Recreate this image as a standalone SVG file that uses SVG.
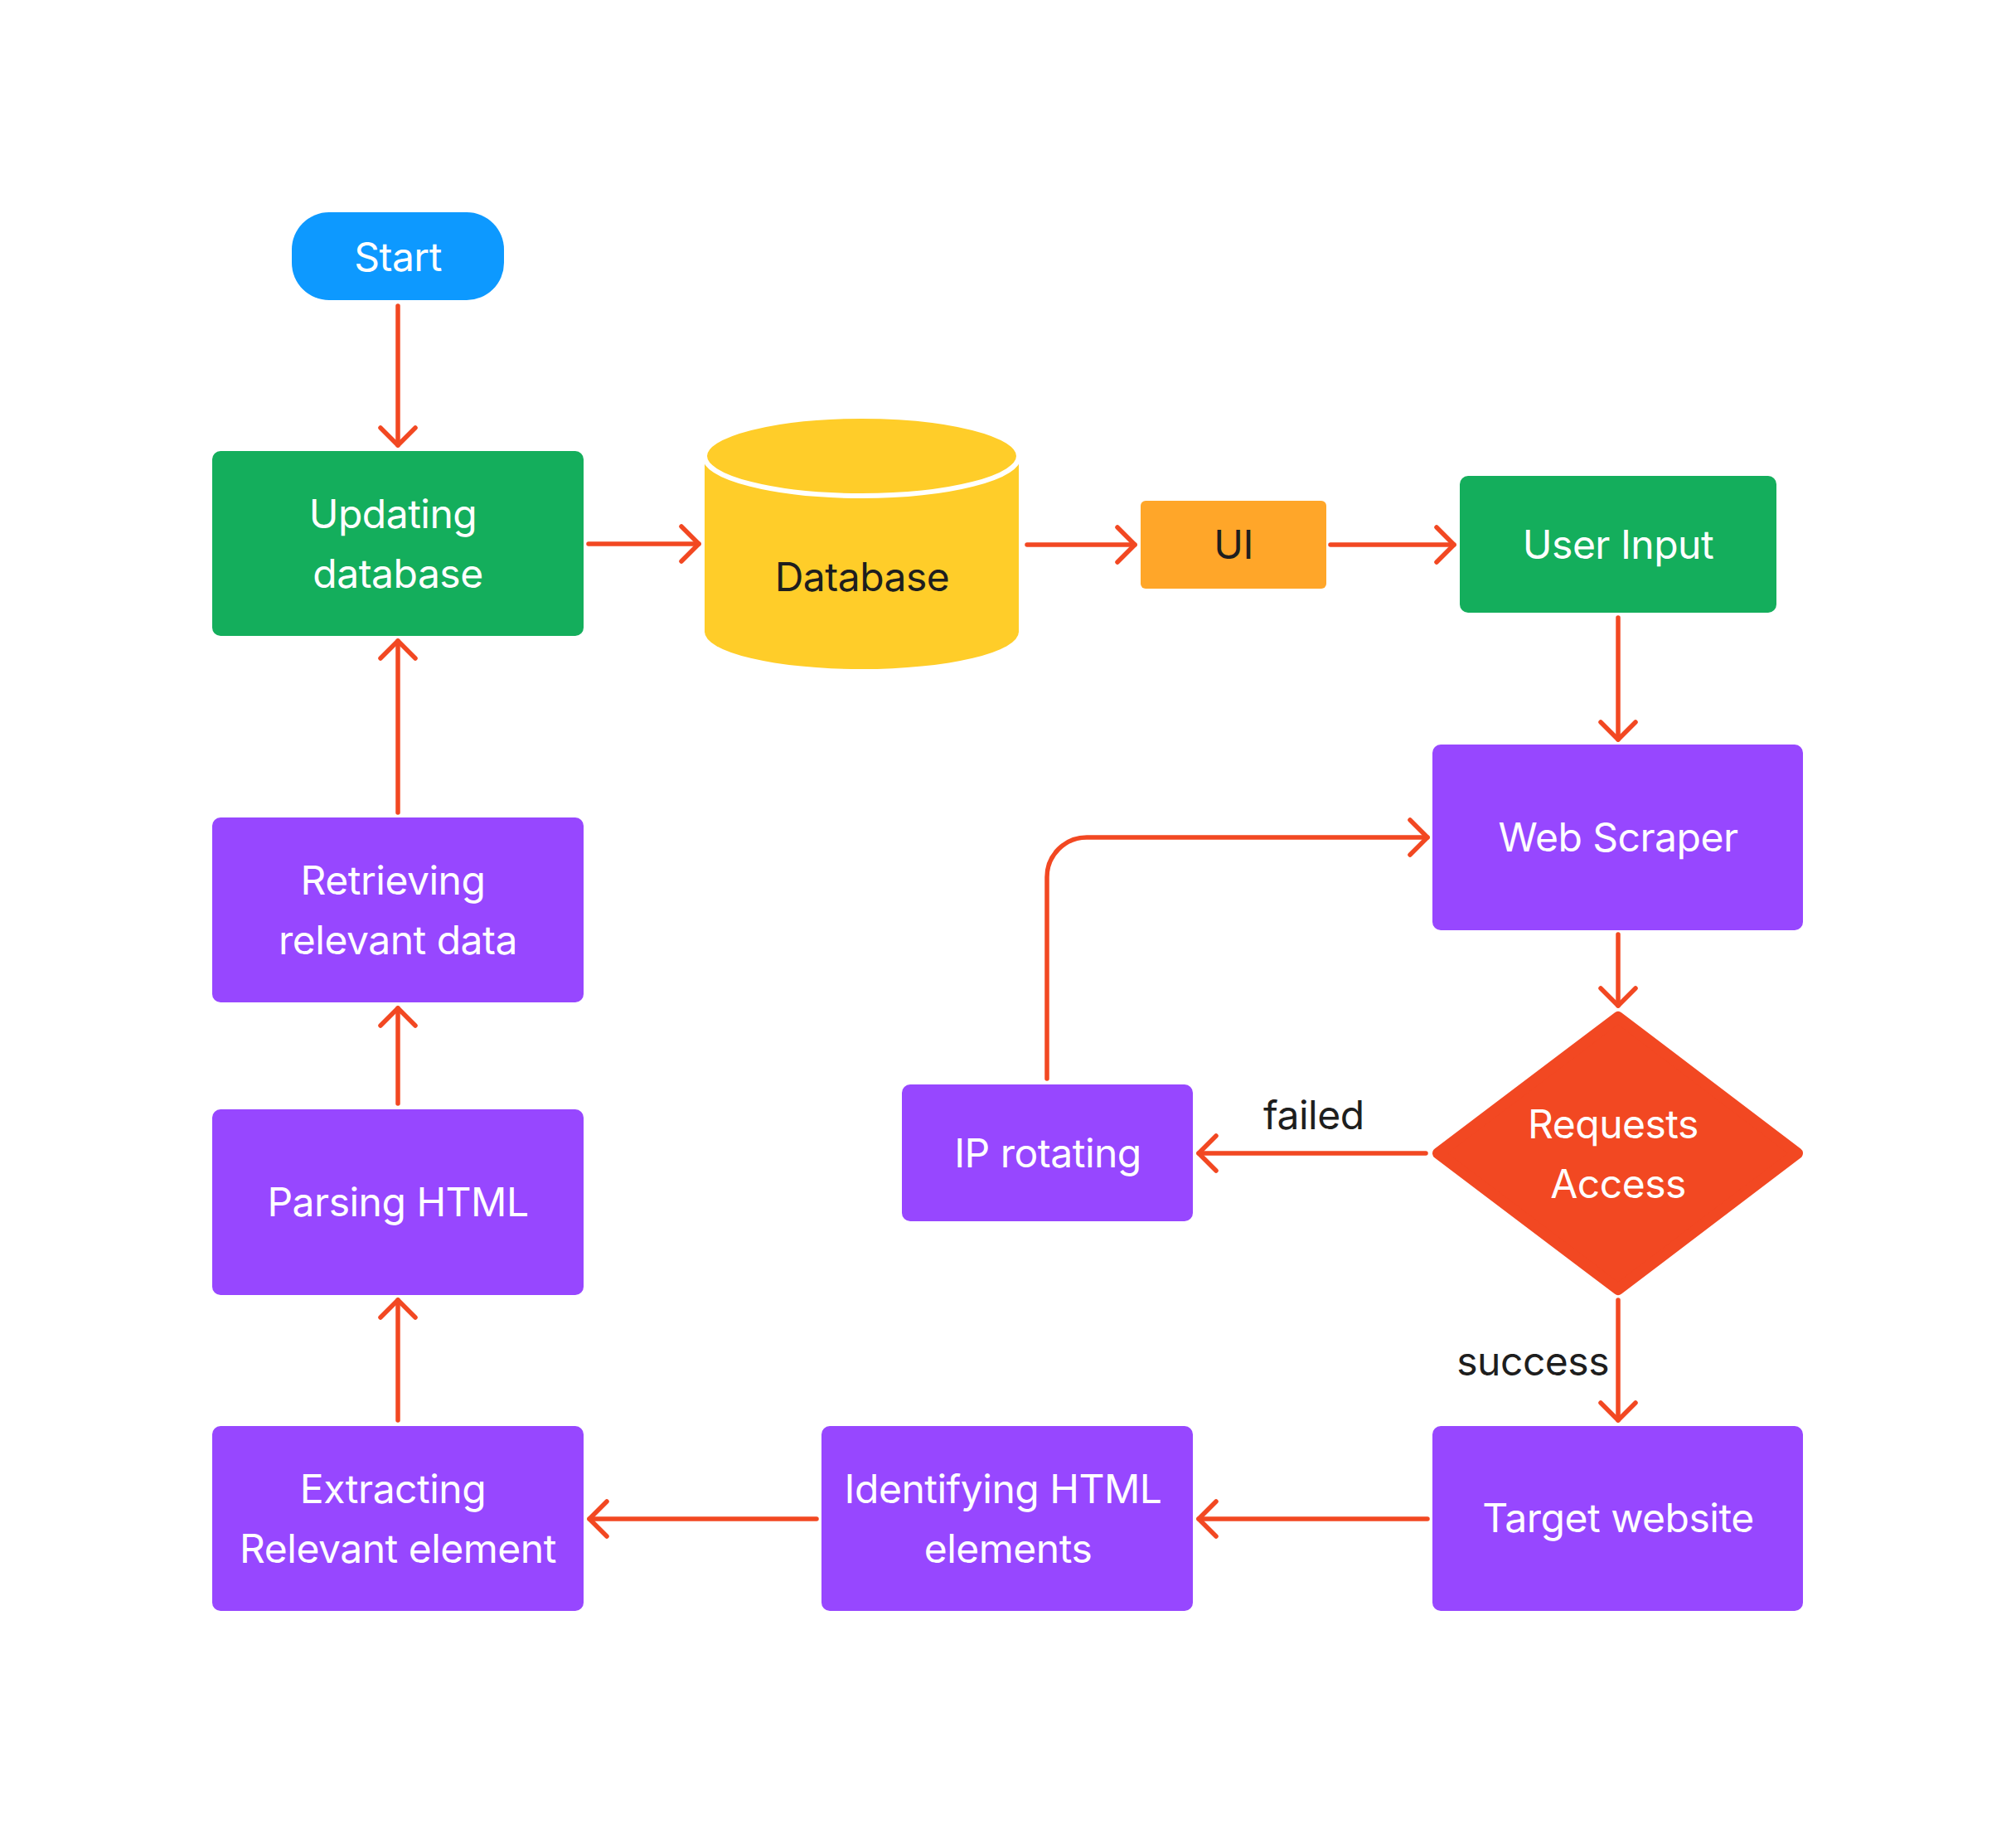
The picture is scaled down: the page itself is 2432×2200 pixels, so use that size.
<svg xmlns="http://www.w3.org/2000/svg" width="2432" height="2200" viewBox="0 0 2432 2200">
  <style>
    .lbl { font-family: Inter, "Noto Sans", "Liberation Sans", sans-serif; font-size: 48px; letter-spacing: -0.5px; text-anchor: middle; }
    .w { fill: #FFFFFF; }
    .d { fill: #1E1E1E; }
    .purple { fill: #9747FF; }
    .green { fill: #14AE5C; }
    .edge { fill: none; stroke: #F24822; stroke-width: 5.5; stroke-linecap: round; stroke-linejoin: round; }
    .note { font-family: Inter, "Noto Sans", "Liberation Sans", sans-serif; font-size: 48px; letter-spacing: -0.5px; fill: #1E1E1E; }
  </style>
  <defs>
    <marker id="arrow" markerUnits="userSpaceOnUse" viewBox="-30 -30 40 60" refX="0" refY="0" markerWidth="40" markerHeight="60" orient="auto" overflow="visible">
      <path d="M-21,-21 L0,0 L-21,21" fill="none" stroke="#F24822" stroke-width="5.5" stroke-linecap="round" stroke-linejoin="round"/>
    </marker>
  </defs>

  <rect width="2432" height="2200" fill="#FFFFFF"/>

  <!-- connectors -->
  <g id="connectors">
    <path class="edge" d="M480,369 L480,537" marker-end="url(#arrow)"/>
    <path class="edge" d="M710,656 L843,656" marker-end="url(#arrow)"/>
    <path class="edge" d="M1239,657 L1369,657" marker-end="url(#arrow)"/>
    <path class="edge" d="M1605,657 L1754,657" marker-end="url(#arrow)"/>
    <path class="edge" d="M1952,745 L1952,892" marker-end="url(#arrow)"/>
    <path class="edge" d="M1952,1127 L1952,1213" marker-end="url(#arrow)"/>
    <path class="edge" d="M1720,1391 L1446,1391" marker-end="url(#arrow)"/>
    <path class="edge" d="M1263,1301 L1263,1058 A48,48 0 0 1 1311,1010 L1722,1010" marker-end="url(#arrow)"/>
    <path class="edge" d="M1952,1568 L1952,1713" marker-end="url(#arrow)"/>
    <path class="edge" d="M1722,1832 L1446,1832" marker-end="url(#arrow)"/>
    <path class="edge" d="M985,1832 L711,1832" marker-end="url(#arrow)"/>
    <path class="edge" d="M480,1713 L480,1568" marker-end="url(#arrow)"/>
    <path class="edge" d="M480,1331 L480,1216" marker-end="url(#arrow)"/>
    <path class="edge" d="M480,980 L480,773" marker-end="url(#arrow)"/>
    <text class="note" x="1524" y="1362">failed</text>
    <text class="note" x="1941" y="1659" text-anchor="end">success</text>
  </g>

  <g id="start">
    <rect x="352" y="256" width="256" height="106" rx="45" fill="#0D99FF"/>
    <text class="lbl w" x="480" y="327">Start</text>
  </g>

  <g id="updating-database">
    <rect class="green" x="256" y="544" width="448" height="223" rx="10"/>
    <text class="lbl w" x="474" y="637">Updating</text>
    <text class="lbl w" x="480" y="709">database</text>
  </g>

  <g id="database">
    <path d="M850,550 L850,762 A189.5,45 0 0 0 1229,762 L1229,550 Z" fill="#FFCD29"/>
    <ellipse cx="1039.5" cy="550" rx="189.5" ry="48" fill="#FFCD29" stroke="#FFFFFF" stroke-width="6"/>
    <text class="lbl d" x="1040" y="713">Database</text>
  </g>

  <g id="ui">
    <rect x="1376" y="604" width="224" height="106" rx="6" fill="#FFA629"/>
    <text class="lbl d" x="1488" y="674">UI</text>
  </g>

  <g id="user-input">
    <rect class="green" x="1761" y="574" width="382" height="165" rx="10"/>
    <text class="lbl w" x="1952" y="674">User Input</text>
  </g>

  <g id="web-scraper">
    <rect class="purple" x="1728" y="898" width="447" height="224" rx="10"/>
    <text class="lbl w" x="1952" y="1027">Web Scraper</text>
  </g>

  <g id="requests-access">
    <polygon points="1952,1227 2168,1391 1952,1555 1735,1391" fill="#F24822" stroke="#F24822" stroke-width="14" stroke-linejoin="round"/>
    <text class="lbl w" x="1946" y="1373">Requests</text>
    <text class="lbl w" x="1952" y="1445">Access</text>
  </g>

  <g id="ip-rotating">
    <rect class="purple" x="1088" y="1308" width="351" height="165" rx="10"/>
    <text class="lbl w" x="1264" y="1408">IP rotating</text>
  </g>

  <g id="target-website">
    <rect class="purple" x="1728" y="1720" width="447" height="223" rx="10"/>
    <text class="lbl w" x="1952" y="1848">Target website</text>
  </g>

  <g id="identifying-html">
    <rect class="purple" x="991" y="1720" width="448" height="223" rx="10"/>
    <text class="lbl w" x="1210" y="1813">Identifying HTML</text>
    <text class="lbl w" x="1216" y="1885">elements</text>
  </g>

  <g id="extracting">
    <rect class="purple" x="256" y="1720" width="448" height="223" rx="10"/>
    <text class="lbl w" x="474" y="1813">Extracting</text>
    <text class="lbl w" x="480" y="1885">Relevant element</text>
  </g>

  <g id="parsing-html">
    <rect class="purple" x="256" y="1338" width="448" height="224" rx="10"/>
    <text class="lbl w" x="480" y="1467">Parsing HTML</text>
  </g>

  <g id="retrieving">
    <rect class="purple" x="256" y="986" width="448" height="223" rx="10"/>
    <text class="lbl w" x="474" y="1079">Retrieving</text>
    <text class="lbl w" x="480" y="1151">relevant data</text>
  </g>
</svg>
